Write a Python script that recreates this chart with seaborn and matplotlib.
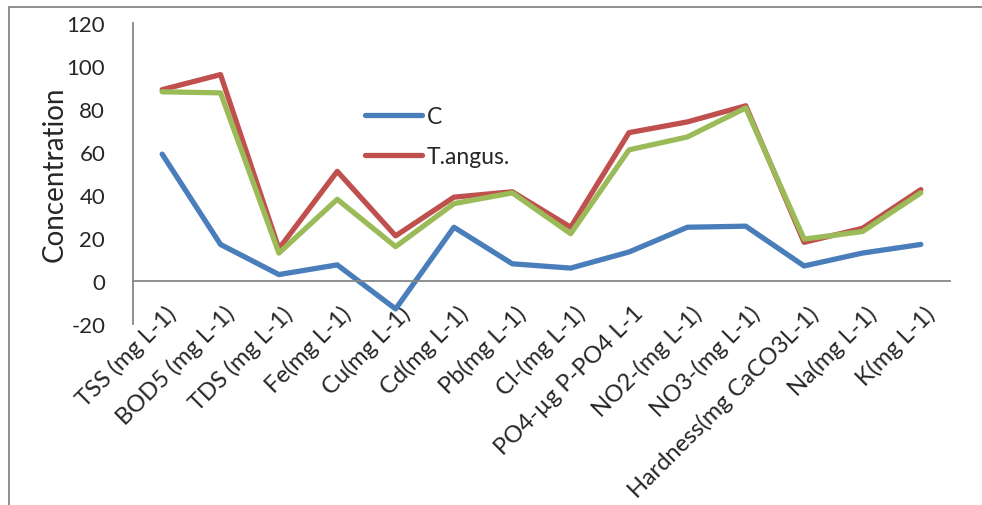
import pandas as pd
import seaborn as sns
import matplotlib.pyplot as plt
from matplotlib.patches import Rectangle
from matplotlib.transforms import ScaledTranslation

# Parameters (x axis categories)
categories = ["TSS (mg L-1)", "BOD5 (mg L-1)", "TDS (mg L-1)", "Fe(mg L-1)", "Cu(mg L-1)",
              "Cd(mg L-1)", "Pb(mg L-1)", "Cl-(mg L-1)", "PO4-µg P-PO4 L-1", "NO2-(mg L-1)",
              "NO3-(mg L-1)", "Hardness(mg CaCO3L-1)", "Na(mg L-1)", "K(mg L-1)"]

# Series values
c_vals = [59, 17, 3, 7.5, -13, 25, 8, 6, 13.5, 25, 25.5, 7, 13, 17]
t_angus_vals = [89, 96, 15, 51, 21, 39, 41.5, 25, 69, 74, 81.5, 18, 24.5, 42.5]
third_vals = [88, 87.5, 13, 38, 16, 36, 41, 22, 61, 67, 80.5, 19.5, 23, 41]

series_names = ["C", "T.angus.", "third"]
series_colors = ["#4A7EBB", "#C0504D", "#9BBB59"]

df = pd.DataFrame({
    "Parameter": categories * 3,
    "Concentration": c_vals + t_angus_vals + third_vals,
    "Series": [s for s in series_names for _ in categories],
})

sns.set_style("white")
plt.rcParams["font.family"] = ["Lato", "DejaVu Sans"]
plt.rcParams["axes.unicode_minus"] = False

fig = plt.figure(figsize=(9.82, 5.06), dpi=100)
ax = fig.add_axes([133 / 982, 1 - 325 / 506, 817 / 982, 301 / 506])

sns.lineplot(data=df, x="Parameter", y="Concentration", hue="Series",
             palette=dict(zip(series_names, series_colors)), sort=False,
             linewidth=3.8, legend=False, ax=ax)

ax.set_xlim(-0.5, len(categories) - 0.5)
ax.set_ylim(-20, 120)
ax.set_yticks(range(-20, 121, 20))

# axes styling: x axis crosses at 0
axis_col = "#868686"
ax.spines["top"].set_visible(False)
ax.spines["right"].set_visible(False)
ax.spines["bottom"].set_position(("data", 0))
for s in ["left", "bottom"]:
    ax.spines[s].set_color(axis_col)
    ax.spines[s].set_linewidth(1.3)

ax.set_xticks(range(len(categories)))
ax.set_xticklabels(categories, rotation=45, ha="right", va="top",
                   rotation_mode="anchor", fontsize=17)
ax.set_xticks([i - 0.5 for i in range(len(categories) + 1)], minor=True)
ax.tick_params(axis="x", which="major", length=0, pad=15)
ax.tick_params(axis="x", which="minor", length=7, width=1.3, color=axis_col, direction="out")
ax.tick_params(axis="y", length=7, width=1.3, color=axis_col, direction="out",
               labelsize=16, pad=13)
shift = ScaledTranslation(0.03, 0, fig.dpi_scale_trans)
for lbl in ax.get_xticklabels():
    lbl.set_transform(lbl.get_transform() + shift)

ax.set_xlabel("")
ax.set_ylabel("Concentration", fontsize=20, labelpad=-1)

# legend (only C and T.angus. visible in the reference)
lines = ax.get_lines()[:2]
fig.legend(lines, series_names[:2], loc="upper left",
           bbox_to_anchor=(344 / 982, 1 - 86 / 506), frameon=False,
           fontsize=16.5, handlelength=2.5, labelspacing=0.85, handletextpad=0.2)

# chart frame border
fig.add_artist(Rectangle((9 / 982, -0.2), 1.2, 1 - 8 / 506 + 0.2,
                         transform=fig.transFigure, fill=False,
                         edgecolor=axis_col, linewidth=1.3))

fig.savefig("out.png", dpi=100)
